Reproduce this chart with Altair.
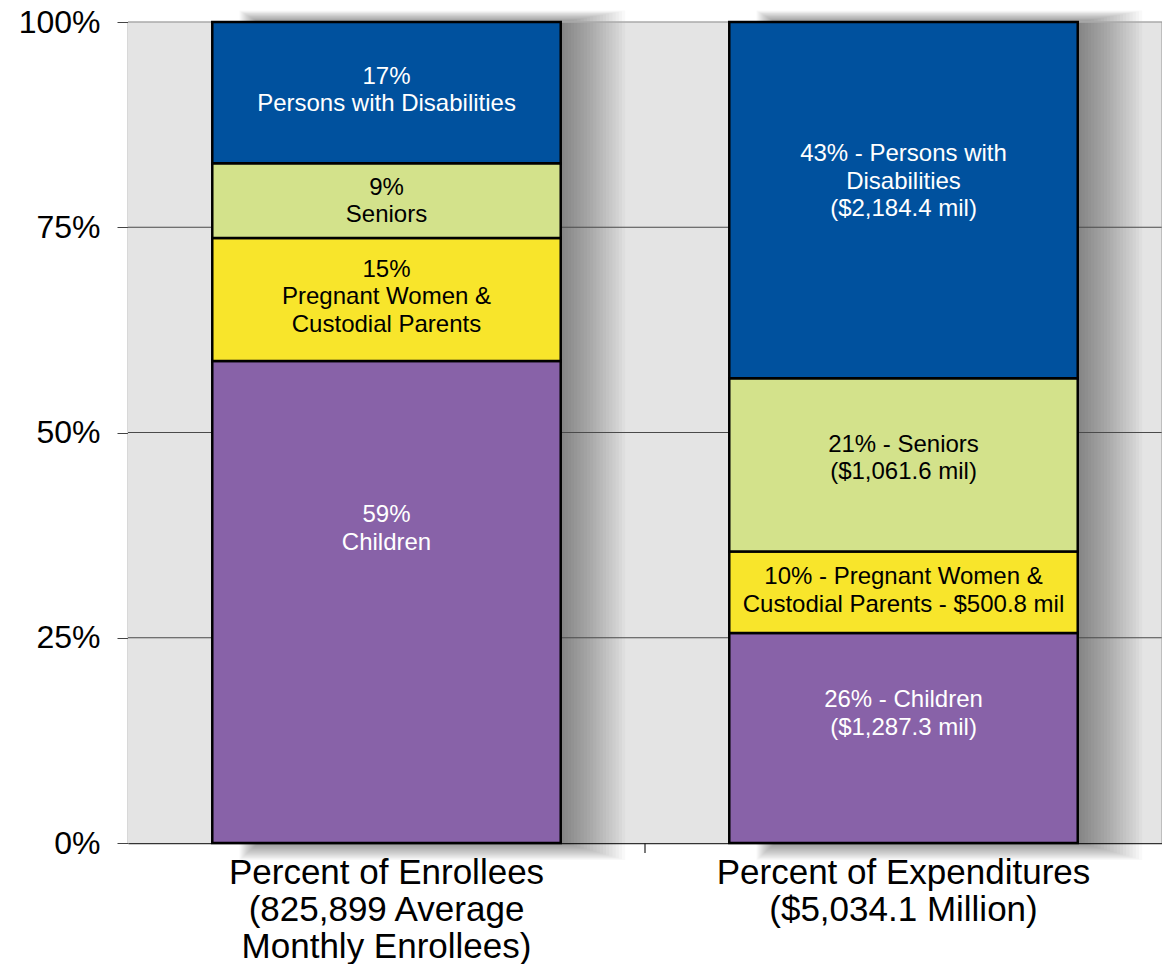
import altair as alt
import pandas as pd

# ---------------- data ----------------
group_labels = [
    "Percent of Enrollees|(825,899 Average|Monthly Enrollees)",
    "Percent of Expenditures|($5,034.1 Million)",
]
segments = ["Children", "Pregnant Women & Custodial Parents", "Seniors", "Persons with Disabilities"]
enrollee_share = [58.7, 15.0, 9.1, 17.2]            # percent of enrollees
expenditure_mil = [1287.3, 500.8, 1061.6, 2184.4]   # $ million
enrollee_text = [
    "59%\nChildren",
    "15%\nPregnant Women &\nCustodial Parents",
    "9%\nSeniors",
    "17%\nPersons with Disabilities",
]
expenditure_text = [
    "26% - Children\n($1,287.3 mil)",
    "10% - Pregnant Women &\nCustodial Parents - $500.8 mil",
    "21% - Seniors\n($1,061.6 mil)",
    "43% - Persons with\nDisabilities\n($2,184.4 mil)",
]
y_ticks = [0, 25, 50, 75, 100]

# ---------------- styling ----------------
seg_colors = ["#8862a8", "#f8e52b", "#d3e28b", "#00519e"]
text_colors = ["white", "black", "black", "white"]
# first-line nudges (pixels, negative = up) relative to segment middle
label_nudge_px = [[-87, -29.5, -12.6, -16], [-38, -15, -20, -46]]

W, H = 1034, 821
PX_PER_PCT = H / 100.0
FONT = "Liberation Sans"

rows = []
for gi, (g, vals, texts) in enumerate(
    [(group_labels[0], enrollee_share, enrollee_text), (group_labels[1], expenditure_mil, expenditure_text)]
):
    total = sum(vals)
    cum = 0.0
    for si, (s, v, t) in enumerate(zip(segments, vals, texts)):
        pct = v / total * 100
        lo, hi = cum, cum + pct
        cum = hi
        rows.append(dict(group=g, segment=s, lo=lo, hi=hi,
                         label_y=(lo + hi) / 2 - label_nudge_px[gi][si] / PX_PER_PCT,
                         text=t, tcolor=text_colors[si]))
df = pd.DataFrame(rows)
frame = pd.DataFrame({"group": group_labels, "lo": [0, 0], "hi": [100, 100]})
grid_df = pd.DataFrame({"v": [25, 50, 75]})
top_df = pd.DataFrame({"v": [100]})

x_enc = alt.X(
    "group:N",
    sort=group_labels,
    scale=alt.Scale(paddingInner=0.326, paddingOuter=0.163),
    axis=alt.Axis(
        title=None, labelAngle=0, labelExpr="split(datum.label, '|')",
        labelFontSize=35, labelLineHeight=37, labelColor="black", labelFont=FONT,
        labelPadding=12, ticks=False, tickSize=0, labelLimit=0,
        domainColor="#333", domainWidth=1.5, labelBaseline="top",
    ),
)
y_scale = alt.Scale(domain=[0, 100], nice=False)
y_axis = alt.Axis(
    title=None, values=y_ticks, labelExpr="datum.value + '%'", grid=False,
    labelFontSize=32, labelColor="black", labelFont=FONT, labelPadding=17,
    tickSize=11, tickColor="#444", domainColor="#666", domainWidth=1.5,
)
y_first = alt.Y("lo:Q", scale=y_scale, axis=y_axis)

layers = []
# plot background
layers.append(
    alt.Chart(top_df).mark_rect(color="#e4e4e4").encode(
        x=alt.value(0), x2=alt.value(W), y=alt.value(0), y2=alt.value(H)
    )
)
# soft shadow to the right of each bar (stack of translucent rects)
BAR_W = 348
for k in range(20):
    r = 2 * k
    L = 46 - 0.5 * r
    R = 4 + 1.6 * r
    T = 0.3 * r
    B = 0.45 * r
    layers.append(
        alt.Chart(frame).mark_bar(
            color="black", opacity=0.023, width=BAR_W + R - L, xOffset=(L + R) / 2,
            yOffset=B, y2Offset=-T,
        ).encode(x=x_enc, y=y_first, y2="hi:Q")
    )

# gridlines over the shadow
layers.append(
    alt.Chart(grid_df).mark_rule(color="#4a4a4a", strokeWidth=1.2).encode(
        y=alt.Y("v:Q", scale=y_scale, axis=y_axis), x=alt.value(0), x2=alt.value(W)
    )
)
layers.append(
    alt.Chart(top_df).mark_rule(color="#aaa", strokeWidth=1.5).encode(
        y=alt.Y("v:Q", scale=y_scale, axis=y_axis), x=alt.value(0), x2=alt.value(W)
    )
)
layers.append(
    alt.Chart(top_df).mark_rule(color="#999", strokeWidth=1).encode(
        x=alt.value(W), y=alt.value(0), y2=alt.value(H)
    )
)
# category-boundary tick on the x axis
layers.append(
    alt.Chart(top_df).mark_rule(color="#222", strokeWidth=1.2).encode(
        x=alt.value(W / 2), y=alt.value(H), y2=alt.value(H + 10)
    )
)

bars = alt.Chart(df).mark_bar(stroke="black", strokeWidth=2.5).encode(
    x=x_enc,
    y=y_first,
    y2="hi:Q",
    color=alt.Color("segment:N", scale=alt.Scale(domain=segments, range=seg_colors), legend=None),
)
labels = alt.Chart(df).mark_text(
    lineBreak="\n", fontSize=24, lineHeight=27.5, font=FONT, align="center", baseline="middle"
).encode(
    x=x_enc,
    y=alt.Y("label_y:Q", scale=y_scale, axis=y_axis),
    text="text:N",
    color=alt.Color("tcolor:N", scale=None),
)
layers += [bars, labels]

chart = alt.layer(*layers).properties(
    width=W, height=H,
    autosize=alt.AutoSizeParams(type="none"),
    padding={"left": 120, "top": 14, "right": 0, "bottom": 121},
).configure_view(stroke=None).configure(font=FONT)

chart.save("out.html", embed_options={"renderer": "svg", "actions": False})
